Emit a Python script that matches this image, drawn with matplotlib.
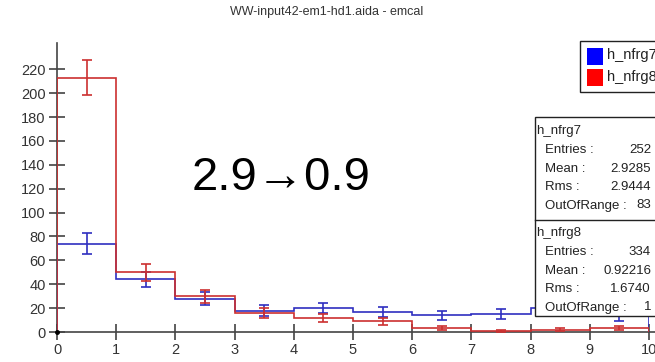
import numpy as np
import matplotlib
matplotlib.use("Agg")
import matplotlib.pyplot as plt
from matplotlib.patches import Rectangle

plt.rcParams['font.family'] = ['Liberation Sans', 'DejaVu Sans']

edges = list(range(0, 11))
nfrg7 = [74, 44, 28, 18, 20, 17, 14, 15, 20, 13]
nfrg8 = [213, 50, 30, 16, 12, 9, 3, 1, 2, 3]
xticks = list(range(0, 11))
yticks = list(range(0, 221, 20))
title = "WW-input42-em1-hd1.aida - emcal"
annot = "2.9\u21920.9"
stats7 = [("Entries :", "252"), ("Mean :", "2.9285"), ("Rms :", "2.9444"), ("OutOfRange :", "83")]
stats8 = [("Entries :", "334"), ("Mean :", "0.92216"), ("Rms :", "1.6740"), ("OutOfRange :", "1")]

W, H = 655, 362
fig = plt.figure(figsize=(W / 100, H / 100), dpi=100)
ax = fig.add_axes([57 / W, 1 - 332 / H, (649 - 57) / W, (332 - 43) / H])
ax.set_xlim(0, 10)
ax.set_ylim(0, 242)

blue = '#2f2fc0'
red = '#cc3030'
centers = np.array(edges[:-1]) + 0.5

ax.stairs(nfrg7, edges, color=blue, lw=1.2, zorder=5)
ax.errorbar(centers, nfrg7, yerr=np.sqrt(nfrg7), fmt='none', ecolor=blue, elinewidth=1.2, capsize=3.5, capthick=1.2, zorder=5)
ax.stairs(nfrg8, edges, color=red, lw=1.2, zorder=6)
ax.errorbar(centers, nfrg8, yerr=np.sqrt(nfrg8), fmt='none', ecolor=red, elinewidth=1.2, capsize=3.5, capthick=1.2, zorder=6)

for s in ['top', 'right']:
    ax.spines[s].set_visible(False)
for s in ['left', 'bottom']:
    ax.spines[s].set_color('#444444')
    ax.spines[s].set_linewidth(1.2)
ax.spines['bottom'].set_bounds(0, 10.2)
ax.set_xticks(xticks)
ax.set_yticks(yticks)
ax.tick_params(axis='both', direction='inout', length=11.5, width=1.1, color='#333333',
               labelcolor='#333333', labelsize=10.5)
ax.tick_params(axis='x', pad=2.5)
ax.tick_params(axis='y', pad=2.5)
ax.patch.set_visible(False)
ax.plot([0], [0], 'o', color='black', ms=2.5, clip_on=False, zorder=7)

fig.text(327 / W, 1 - 12 / H, title, ha='center', va='center', fontsize=9, color='#333333')
fig.text(281 / W, 1 - 178 / H, annot, ha='center', va='center', fontsize=34, color='black')

def fx(x):
    return x / W

def fy(y):
    return 1 - y / H

tc = '#222222'
# legend box
fig.patches.append(Rectangle((fx(580), fy(92)), (700 - 580) / W, 51 / H, transform=fig.transFigure,
                             facecolor='white', edgecolor=tc, lw=1.0, zorder=1))
fig.patches.append(Rectangle((fx(587), fy(65)), 16 / W, 17 / H, transform=fig.transFigure,
                             facecolor='#0000ff', edgecolor='none', zorder=2))
fig.patches.append(Rectangle((fx(587), fy(86)), 16 / W, 17 / H, transform=fig.transFigure,
                             facecolor='#ff0000', edgecolor='none', zorder=2))
fig.text(fx(607), fy(55), "h_nfrg7", ha='left', va='center', fontsize=10.5, color=tc)
fig.text(fx(607), fy(77), "h_nfrg8", ha='left', va='center', fontsize=10.5, color=tc)

# stats box
fig.patches.append(Rectangle((fx(535), fy(316)), (700 - 535) / W, (316 - 117) / H, transform=fig.transFigure,
                             facecolor='white', edgecolor=tc, lw=1.0, zorder=0))
fig.lines.append(plt.Line2D([fx(535), fx(700)], [fy(220), fy(220)], transform=fig.transFigure,
                            color=tc, lw=1.0))
fig.text(fx(536), fy(131), "h_nfrg7", ha='left', va='center', fontsize=9.5, color=tc)
for i, (k, v) in enumerate(stats7):
    yy = 150 + i * 18.5
    fig.text(fx(545), fy(yy), k, ha='left', va='center', fontsize=9.5, color=tc)
    fig.text(fx(651), fy(yy), v, ha='right', va='center', fontsize=9.5, color=tc)
fig.text(fx(536), fy(233), "h_nfrg8", ha='left', va='center', fontsize=9.5, color=tc)
for i, (k, v) in enumerate(stats8):
    yy = 252 + i * 18.5
    fig.text(fx(545), fy(yy), k, ha='left', va='center', fontsize=9.5, color=tc)
    fig.text(fx(651), fy(yy), v, ha='right', va='center', fontsize=9.5, color=tc)

fig.savefig('out.png', dpi=100)
